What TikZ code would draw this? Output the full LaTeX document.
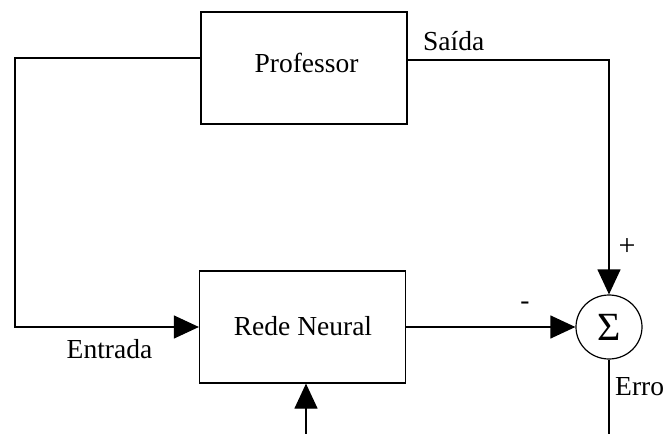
\documentclass[tikz,border=0pt]{standalone}
\usepackage{fontspec}
\setmainfont{Liberation Serif}
\usetikzlibrary{arrows.meta,shapes.geometric}
\begin{document}
\begin{tikzpicture}[x=1pt,y=-1pt,
  blk/.style={draw,line width=1.2pt,minimum width=206pt,minimum height=112pt,inner sep=0pt},
  conn/.style={line width=1.2pt},
  arr/.style={line width=1.2pt,-{Triangle[length=25pt,width=23pt]}},
  txt/.style={inner sep=0pt,font=\fontsize{27.5}{30}\selectfont}]
\useasboundingbox (0,0) rectangle (665,434);
\node[blk] (prof) at (304,68) {};
\node[txt,anchor=base] (proft) at (306.5,72) {Professor};
\node[blk] (rede) at (302.5,327) {};
\node[txt,anchor=base] (redet) at (303,335) {Rede Neural};
\node[draw,ellipse,line width=1.2pt,minimum width=66pt,minimum height=64pt,inner sep=0pt] (sum) at (609,327) {};
\node[txt,font=\fontsize{40}{42}\selectfont] (sig) at (609,327) {Σ};
\coordinate (tl) at (15,58);
\coordinate (bl) at (15,327);
\coordinate (tr) at (609,60);
\coordinate (bin) at (306,434);
\coordinate (eout) at (609,434);
\draw[arr] (prof.west |- tl) -- (tl) -- (bl) -- (rede.west |- bl);
\draw[arr] (prof.east |- tr) -- (tr) -- (sum.north);
\draw[arr] (rede.east) -- (sum.west);
\draw[arr] (bin) -- (rede.south -| bin);
\draw[conn] (sum.south) -- (eout);
\node[txt,anchor=base west] (saida) at (423,50) {Saída};
\node[txt,anchor=base] (entrada) at (109.5,358) {Entrada};
\node[txt,font=\fontsize{30}{32}\selectfont] (plus) at (627,247) {+};
\node[txt] (minus) at (525,306) {-};
\node[txt,anchor=base west] (erro) at (615,395) {Erro};
\end{tikzpicture}
\end{document}
